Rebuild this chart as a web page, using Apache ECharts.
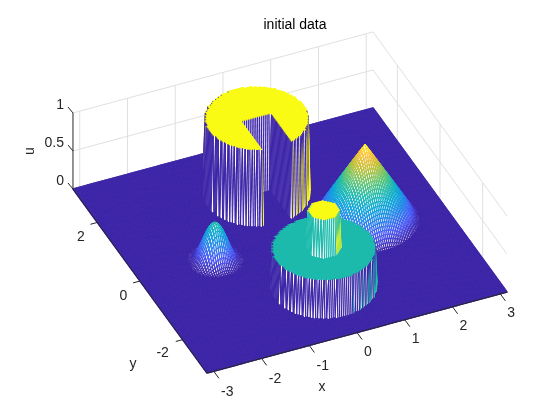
<!DOCTYPE html>
<html>
<head>
<meta charset="utf-8">
<style>html,body{margin:0;padding:0;background:#fff}#c{width:560px;height:420px}</style>
<script src="https://cdn.jsdelivr.net/npm/echarts@6/dist/echarts.min.js"></script>
</head>
<body>
<div id="c"></div>
<script>
// ---- values ----
var xTicks = [-3, -2, -1, 0, 1, 2, 3];
var yTicks = [-2, 0, 2];
var uTicks = [0, 0.5, 1];
var uTickText = ['0', '0.5', '1'];
var xyLimit = Math.PI;
var meshCells = 160;

// discs of the piecewise surface: [centre x, centre y, radius, top height]
var outerDisc = [0, -1.5708, 1, 0.5];
var innerDisc = [0, -1.5708, 0.3, 1];
var slottedDisc = [0, 1.5708, 1, 1];
var slotHalfWidth = 0.3;
var slotTopY = 1.5708;
// radial height profiles, evenly spaced from the centre to the rim
var coneCentre = [1.5708, 0], coneRadius = 1;
var coneProfile = [1, 0.9, 0.8, 0.7, 0.6, 0.5, 0.4, 0.3, 0.2, 0.1, 0];
var humpCentre = [-1.5708, 0], humpRadius = 0.5;
var humpProfile = [0.5, 0.488, 0.452, 0.397, 0.327, 0.25, 0.173, 0.103, 0.048, 0.012, 0];
// colour ramp
var rampStops = [[62,38,168],[71,84,246],[40,129,235],[10,163,218],[28,186,172],[100,197,110],[190,190,50],[250,190,55],[249,251,21]];

// ---- view plane ----
var origin = [290, 240.5];
var xDir = [47.75, -12.9], yDir = [-21.33, -29.3], uDir = [0, -76];
function project(x, y, u) {
  return [origin[0] + xDir[0]*x + yDir[0]*y + uDir[0]*u,
          origin[1] + xDir[1]*x + yDir[1]*y + uDir[1]*u];
}
function inDisc(d, x, y) { var a=x-d[0], b=y-d[1]; return a*a+b*b <= d[2]*d[2]; }
function profileAt(p, t) {
  var f = t*(p.length-1), k = Math.floor(f);
  if (k >= p.length-1) return p[p.length-1];
  return p[k] + (p[k+1]-p[k])*(f-k);
}
function heightAt(x, y) {
  if (inDisc(innerDisc, x, y)) return innerDisc[3];
  if (inDisc(outerDisc, x, y)) return outerDisc[3];
  if (inDisc(slottedDisc, x, y)) {
    if (Math.abs(x) <= slotHalfWidth && y <= slotTopY) return 0;
    return slottedDisc[3];
  }
  var r = Math.hypot(x-coneCentre[0], y-coneCentre[1]);
  if (r < coneRadius) return profileAt(coneProfile, r/coneRadius);
  r = Math.hypot(x-humpCentre[0], y-humpCentre[1]);
  if (r < humpRadius) return profileAt(humpProfile, r/humpRadius);
  return 0;
}
function rampColor(u) {
  var f = Math.max(0, Math.min(1, u))*(rampStops.length-1), k = Math.min(Math.floor(f), rampStops.length-2), t = f-k;
  var a = rampStops[k], b = rampStops[k+1];
  return 'rgb('+Math.round(a[0]+(b[0]-a[0])*t)+','+Math.round(a[1]+(b[1]-a[1])*t)+','+Math.round(a[2]+(b[2]-a[2])*t)+')';
}

// ---- surface vertices ----
var n = meshCells, h = 2*xyLimit/n, U = [];
for (var i = 0; i <= n; i++) {
  U.push([]);
  for (var j = 0; j <= n; j++) U[i].push(heightAt(-xyLimit+i*h, -xyLimit+j*h));
}
var cells = [];
for (var a = n-1; a >= 0; a--) for (var b = n-1; b >= 0; b--) cells.push([a, b]);

var flatLW = 1.4, LW = 1.1;
function renderCell(params, api) {
  var i = api.value(0), j = api.value(1);
  var v = [[i,j],[i+1,j],[i+1,j+1],[i,j+1]].map(function(q){
    var p = project(-xyLimit+q[0]*h, -xyLimit+q[1]*h, U[q[0]][q[1]]);
    return api.coord(p);
  });
  var u00=U[i][j], u10=U[i+1][j], u11=U[i+1][j+1], u01=U[i][j+1];
  if (u00===u10 && u00===u11 && u00===u01) {
    return {type:'polygon', silent:true, shape:{points:v}, style:{fill:'#fff', stroke:rampColor(u00), lineWidth:flatLW}};
  }
  function edge(p,q,c){ return {type:'line', silent:true, shape:{x1:p[0],y1:p[1],x2:q[0],y2:q[1]}, style:{stroke:rampColor(c), lineWidth:LW, fill:null}}; }
  return {type:'group', children:[
    {type:'polygon', silent:true, shape:{points:v}, style:{fill:'#fff', stroke:null}},
    edge(v[0],v[1],u00), edge(v[0],v[3],u00), edge(v[1],v[2],u10), edge(v[3],v[2],u01)
  ]};
}

// ---- axes furniture ----
var L = xyLimit, gridSegs = [], axisSegs = [], labels = [];
var GRID='#e0e0e0', AX='#262626';
uTicks.forEach(function(z){ 
  gridSegs.push([project(-L,L,z),project(L,L,z)]);
  gridSegs.push([project(L,L,z),project(L,-L,z)]);
});
xTicks.forEach(function(x){ gridSegs.push([project(x,L,0),project(x,L,1)]); });
yTicks.forEach(function(y){ gridSegs.push([project(L,y,0),project(L,y,1)]); });
axisSegs.push([project(-L,-L,0),project(L,-L,0)]);
axisSegs.push([project(-L,-L,0),project(-L,L,0)]);
axisSegs.push([project(-L,L,0),project(-L,L,1)]);
xTicks.forEach(function(x){ axisSegs.push([project(x,-L,0),project(x,-L-0.24,0)]); var p=project(x,-L,0);
  labels.push({t:String(x),x:p[0]+(x<0?13.5:11),y:p[1]+(x<0?20.7:19.7),align:'center'}); });
yTicks.forEach(function(y){ axisSegs.push([project(-L,y,0),project(-L-0.144,y,0)]); var p=project(-L,y,0);
  labels.push({t:String(y),x:p[0]+(y<0?-20:-16.5),y:p[1]+(y<0?13.5:15),align:'center'}); });
uTicks.forEach(function(z,k){ var p=project(-L,L,z); axisSegs.push([p,[p[0]-5,p[1]-6]]);
  labels.push({t:uTickText[k],x:p[0]-9,y:p[1]-8,align:'right'}); });
labels.push({t:'x',x:322,y:387,align:'center'});
labels.push({t:'y',x:133,y:364,align:'center'});
labels.push({t:'u',x:30,y:151,align:'center',rot:Math.PI/2});

function segSeries(data, color, z, w) {
  return {type:'custom', coordinateSystem:'cartesian2d', silent:true, animation:false, z:z, clip:false,
    data:data.map(function(s,i){return [i];}),
    renderItem:function(p,api){ var s=data[api.value(0)], a=api.coord(s[0]), b=api.coord(s[1]);
      return {type:'line', silent:true, shape:{x1:a[0],y1:a[1],x2:b[0],y2:b[1]}, style:{stroke:color,lineWidth:w,fill:null}}; }};
}

var chart = echarts.init(document.getElementById('c'), null, {renderer:'canvas', width:560, height:420});
chart.setOption({
  animation:false,
  backgroundColor:'#fff',
  title:{text:'initial data', left:290, top:13, textAlign:'center',
    textStyle:{fontFamily:'Liberation Sans', fontSize:14, fontWeight:'normal', color:'#000'}},
  tooltip:{show:false},
  grid:{left:0,right:0,top:0,bottom:0},
  xAxis:{type:'value',min:0,max:560,show:false},
  yAxis:{type:'value',min:0,max:420,inverse:true,show:false},
  series:[
    segSeries(gridSegs, GRID, 1, 1),
    {type:'custom', coordinateSystem:'cartesian2d', silent:true, animation:false, progressive:0, z:2, clip:false,
      data:cells, renderItem:renderCell},
    segSeries(axisSegs, AX, 3, 1),
    {type:'custom', coordinateSystem:'cartesian2d', silent:true, animation:false, z:4, clip:false,
      data:labels.map(function(l,i){return [i];}),
      renderItem:function(p,api){ var l=labels[api.value(0)], c=api.coord([l.x,l.y]);
        return {type:'text', silent:true, x:c[0], y:c[1], rotation:l.rot||0,
          style:{text:l.t, fill:'#262626', font:'14px "Liberation Sans"', align:l.align, verticalAlign:'middle'}}; }}
  ]
});
</script>
</body>
</html>
